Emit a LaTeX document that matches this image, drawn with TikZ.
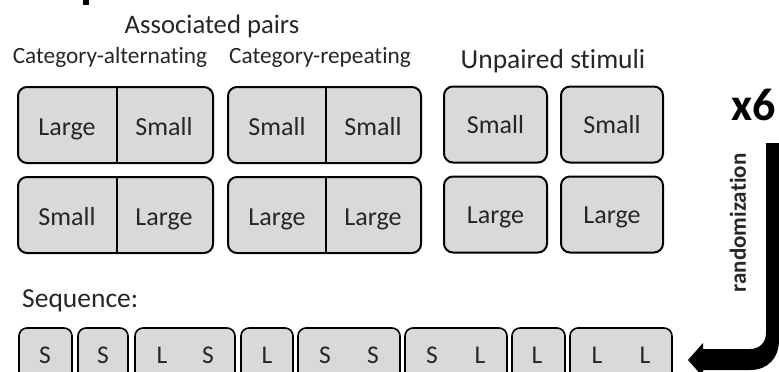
\documentclass[tikz,border=0pt]{standalone}
\usepackage{fontspec}
\setmainfont{Carlito}[Ligatures=CommonOff]
\definecolor{boxgray}{HTML}{D9D9D9}
\definecolor{txt}{HTML}{262626}
\tikzset{
  pbox/.style={draw=black, line width=2pt, fill=boxgray, rounded corners=9pt, minimum height=76pt, inner sep=0pt},
  sbox/.style={draw=black, line width=1.6pt, fill=boxgray, rounded corners=8pt, minimum height=72pt, inner sep=0pt},
  lbl/.style={font=\fontsize{26}{31}\selectfont, text=txt, anchor=base, inner sep=0pt},
  head/.style={font=\fontsize{27.5}{33}\selectfont, text=txt, anchor=base, inner sep=0pt},
  sub/.style={font=\fontsize{23.3}{28}\selectfont, text=txt, anchor=base, inner sep=0pt},
  let/.style={font=\fontsize{25.5}{30}\selectfont, text=txt, anchor=base, inner sep=0pt},
  divider/.style={draw=black, line width=2pt},
}
\begin{document}
\begin{tikzpicture}[x=1pt, y=-1pt]
\useasboundingbox (0,0) rectangle (779,372);
\clip (0,0) rectangle (779,372);
% remnant of cropped title
\fill[black] (83,0) rectangle (89,4.5);
% headings
\node[head, font=\fontsize{26.7}{32}\selectfont] (ap) at (212,33) {Associated pairs};
\node[sub] (ca) at (110,63) {Category-alternating};
\node[sub] (cr) at (320,63) {Category-repeating};
\node[head] (us) at (553,68) {Unpaired stimuli};
% associated pairs
\node[pbox, minimum width=195pt] (p1) at (115.5,125) {};
\node[pbox, minimum width=193pt] (p2) at (324.5,125) {};
\node[pbox, minimum width=195pt] (p3) at (115.5,215) {};
\node[pbox, minimum width=193pt] (p4) at (324.5,215) {};
\draw[divider] (117,0 |- p1.north) -- (117,0 |- p1.south);
\draw[divider] (326,0 |- p2.north) -- (326,0 |- p2.south);
\draw[divider] (117,0 |- p3.north) -- (117,0 |- p3.south);
\draw[divider] (326,0 |- p4.north) -- (326,0 |- p4.south);
\node[lbl] (p1a) at (67,135) {Large};
\node[lbl] (p1b) at (164,135) {Small};
\node[lbl] (p2a) at (277,135) {Small};
\node[lbl] (p2b) at (373,135) {Small};
\node[lbl] (p3a) at (67,225) {Small};
\node[lbl] (p3b) at (164,225) {Large};
\node[lbl] (p4a) at (277,225) {Large};
\node[lbl] (p4b) at (373,225) {Large};
% unpaired stimuli
\node[pbox, minimum width=103pt] (u1) at (495.5,124.5) {};
\node[pbox, minimum width=102pt] (u2) at (612,124.5) {};
\node[pbox, minimum width=103pt] (u3) at (495.5,214.5) {};
\node[pbox, minimum width=102pt] (u4) at (612,214.5) {};
\node[lbl] (u1t) at (u1 |- 0,133) {Small};
\node[lbl] (u2t) at (u2 |- 0,133) {Small};
\node[lbl] (u3t) at (u3 |- 0,223) {Large};
\node[lbl] (u4t) at (u4 |- 0,223) {Large};
% x6 and randomization
\node[font=\bfseries\fontsize{46}{52}\selectfont, anchor=base east, inner sep=0pt] (x6) at (776,120) {x6};
\node[font=\bfseries\fontsize{23}{27}\selectfont, rotate=90, inner sep=0pt, text=txt] (rnd) at (738,223) {randomization};
\fill[black] (766,143) -- (779,143) -- (779,340)
  .. controls (779,358) and (768,370) .. (750,370)
  -- (703,370) -- (703,377) -- (688,360) -- (703,343) -- (703,349)
  -- (750,349) .. controls (759,349) and (766,343) .. (766,333) -- cycle;
% sequence
\node[head, anchor=base west] (seq) at (22,307) {Sequence:};
\node[sbox, minimum width=53pt] (q1) at (45.5,364) {};
\node[sbox, minimum width=50pt] (q2) at (103,364) {};
\node[sbox, minimum width=100pt] (q3) at (185,364) {};
\node[sbox, minimum width=52pt] (q4) at (267,364) {};
\node[sbox, minimum width=102pt] (q5) at (349,364) {};
\node[sbox, minimum width=102pt] (q6) at (456,364) {};
\node[sbox, minimum width=53pt] (q7) at (538.5,364) {};
\node[sbox, minimum width=102pt] (q8) at (621,364) {};
\node[let] (l1) at (45,363) {S};
\node[let] (l2) at (103,363) {S};
\node[let] (l3a) at (162,363) {L};
\node[let] (l3b) at (208,363) {S};
\node[let] (l4) at (267,363) {L};
\node[let] (l5a) at (325,363) {S};
\node[let] (l5b) at (373,363) {S};
\node[let] (l6a) at (432,363) {S};
\node[let] (l6b) at (480,363) {L};
\node[let] (l7) at (537,363) {L};
\node[let] (l8a) at (597,363) {L};
\node[let] (l8b) at (645,363) {L};
\end{tikzpicture}
\end{document}
